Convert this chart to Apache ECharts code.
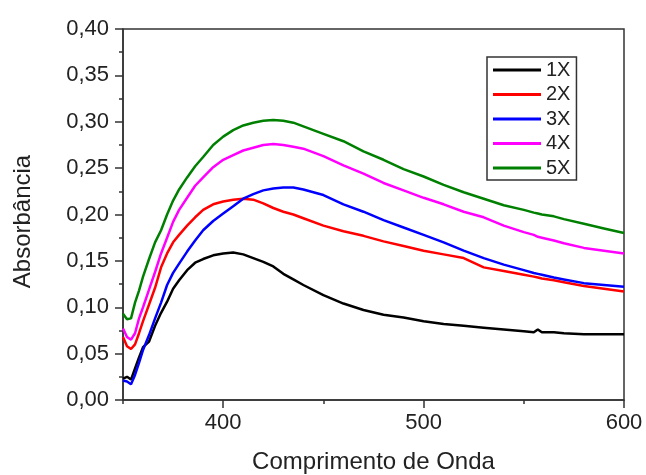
<!DOCTYPE html>
<html>
<head>
<meta charset="utf-8">
<script src="https://cdn.jsdelivr.net/npm/echarts@6/dist/echarts.min.js"></script>
<style>
  html, body { margin: 0; padding: 0; background: #fff; }
  #chart { width: 646px; height: 475px; }
</style>
</head>
<body>
<div id="chart"></div>
<script>
// wavelength (nm) sample points
const wavelengths = [350, 352, 354, 356, 358, 360, 363, 366, 369, 372, 375, 378, 382, 386, 390, 395,
  400, 405, 410, 415, 420, 425, 430, 435, 440, 450, 460, 470, 480, 490, 500, 510, 520, 530,
  540, 550, 555, 557, 559, 565, 570, 580, 590, 600]

const abs1X = [0.023, 0.025, 0.022, 0.034, 0.046, 0.057, 0.063, 0.080, 0.094, 0.106, 0.120, 0.129, 0.140, 0.148, 0.152, 0.156,
  0.158, 0.159, 0.157, 0.153, 0.149, 0.144, 0.136, 0.130, 0.124, 0.113, 0.104, 0.097, 0.092, 0.089, 0.085, 0.082, 0.080, 0.078,
  0.076, 0.074, 0.073, 0.076, 0.073, 0.073, 0.072, 0.071, 0.071, 0.071]
const abs2X = [0.068, 0.058, 0.055, 0.060, 0.072, 0.085, 0.103, 0.121, 0.143, 0.158, 0.170, 0.178, 0.188, 0.197, 0.205, 0.211,
  0.214, 0.216, 0.217, 0.216, 0.212, 0.207, 0.203, 0.200, 0.196, 0.188, 0.182, 0.177, 0.171, 0.166, 0.161, 0.157, 0.153, 0.143,
  0.139, 0.135, 0.133, 0.132, 0.131, 0.129, 0.127, 0.123, 0.120, 0.117]
const abs3X = [0.021, 0.020, 0.017, 0.027, 0.040, 0.054, 0.070, 0.088, 0.105, 0.124, 0.137, 0.147, 0.160, 0.172, 0.183, 0.193,
  0.201, 0.209, 0.217, 0.222, 0.226, 0.228, 0.229, 0.229, 0.227, 0.221, 0.211, 0.203, 0.194, 0.186, 0.178, 0.170, 0.161, 0.153,
  0.146, 0.140, 0.137, 0.136, 0.135, 0.132, 0.130, 0.126, 0.124, 0.122]
const abs4X = [0.077, 0.068, 0.065, 0.072, 0.088, 0.100, 0.119, 0.138, 0.158, 0.175, 0.192, 0.205, 0.218, 0.231, 0.240, 0.251,
  0.259, 0.264, 0.269, 0.272, 0.275, 0.276, 0.275, 0.273, 0.271, 0.263, 0.253, 0.244, 0.234, 0.226, 0.218, 0.211, 0.203, 0.197,
  0.188, 0.181, 0.178, 0.176, 0.175, 0.172, 0.169, 0.164, 0.161, 0.158]
const abs5X = [0.093, 0.087, 0.088, 0.105, 0.118, 0.133, 0.152, 0.170, 0.183, 0.200, 0.215, 0.227, 0.240, 0.252, 0.262, 0.275,
  0.284, 0.291, 0.296, 0.299, 0.301, 0.302, 0.301, 0.299, 0.295, 0.287, 0.279, 0.268, 0.259, 0.249, 0.241, 0.232, 0.224, 0.217,
  0.210, 0.205, 0.202, 0.201, 0.200, 0.198, 0.195, 0.190, 0.185, 0.180]

const seriesNames = ['1X', '2X', '3X', '4X', '5X']
const seriesColors = ['#000000', '#ff0000', '#0000ff', '#ff00ff', '#008000']
const xTickLabels = [400, 500, 600]
const xMinorTicks = [350, 450, 550]

const font = 'Liberation Sans, Arial, sans-serif'
const ink = '#222'

const chart = echarts.init(document.getElementById('chart'))

const series = [abs1X, abs2X, abs3X, abs4X, abs5X].map((vals, i) => ({
  name: seriesNames[i],
  type: 'line',
  xAxisIndex: 0,
  showSymbol: false,
  symbol: 'none',
  lineStyle: { color: seriesColors[i], width: 2.5 },
  itemStyle: { color: seriesColors[i] },
  data: wavelengths.map((w, j) => [w, vals[j]])
}))

chart.setOption({
  animation: false,
  grid: {
    left: 123, right: 22, top: 29, bottom: 75,
    outerBoundsMode: 'none',
    show: true, borderColor: '#333', borderWidth: 1.5
  },
  legend: {
    orient: 'vertical',
    left: 487, top: 57,
    padding: [3, 6, 2, 6],
    itemGap: 4.5,
    itemWidth: 48,
    itemHeight: 3,
    icon: 'rect',
    borderColor: '#333',
    borderWidth: 1.5,
    textStyle: { fontFamily: font, fontSize: 20, color: ink, lineHeight: 20 },
    data: seriesNames
  },
  xAxis: [{
    type: 'value',
    min: 350, max: 600,
    name: 'Comprimento de Onda',
    nameLocation: 'middle',
    nameGap: 50,
    nameTextStyle: { fontFamily: font, fontSize: 24, color: ink },
    axisLine: { lineStyle: { color: '#333', width: 1.5 } },
    axisTick: { customValues: xTickLabels, length: 8, lineStyle: { color: '#333', width: 1.5 } },
    axisLabel: { customValues: xTickLabels, fontFamily: font, fontSize: 22, color: ink, margin: 12 },
    splitLine: { show: false }
  }, {
    type: 'value',
    min: 350, max: 600,
    position: 'bottom',
    axisLine: { show: false },
    axisTick: { customValues: xMinorTicks, length: 4, lineStyle: { color: '#333', width: 1.5 } },
    axisLabel: { show: false },
    splitLine: { show: false }
  }],
  yAxis: {
    type: 'value',
    min: 0, max: 0.4, interval: 0.05,
    name: 'Absorbância',
    nameLocation: 'middle',
    nameGap: 88,
    nameTextStyle: { fontFamily: font, fontSize: 24, color: ink, padding: [0, 14, 0, 0] },
    axisLine: { show: true, lineStyle: { color: '#333', width: 1.5 } },
    axisTick: { length: 8, lineStyle: { color: '#333', width: 1.5 } },
    minorTick: { show: true, splitNumber: 2, length: 4, lineStyle: { color: '#333', width: 1.5 } },
    axisLabel: {
      fontFamily: font, fontSize: 22, color: ink, margin: 14,
      formatter: v => v.toFixed(2).replace('.', ',')
    },
    splitLine: { show: false }
  },
  series
})
</script>
</body>
</html>
